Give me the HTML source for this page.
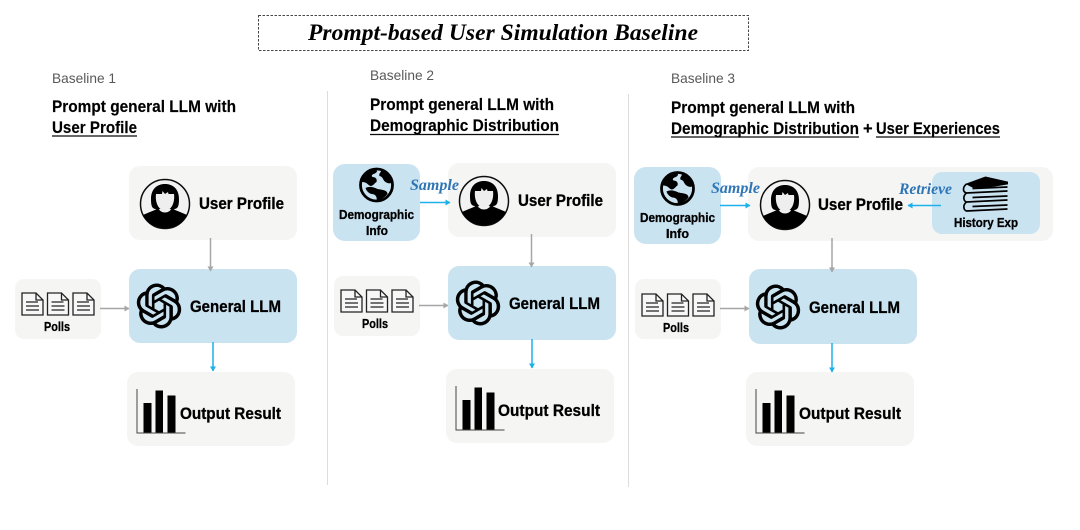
<!DOCTYPE html>
<html><head><meta charset="utf-8">
<style>
html,body{margin:0;padding:0;background:#fff;width:1080px;height:530px;overflow:hidden}
svg{display:block}
text{font-family:"Liberation Sans",sans-serif}
.b{font-weight:bold;fill:#000;stroke:#000;stroke-width:.3px}
.h{font-weight:bold;font-size:16.5px;fill:#000;stroke:#000;stroke-width:.15px}
.g{font-size:14px;fill:#595959}
.s{font-family:"Liberation Serif",serif;font-weight:bold;font-style:italic;font-size:15.5px;fill:#2e75b6}
</style></head><body>
<svg width="1080" height="530" viewBox="0 0 1080 530" xmlns="http://www.w3.org/2000/svg">
<defs>
<filter id="bl" x="-5%" y="-5%" width="110%" height="110%"><feGaussianBlur stdDeviation="0.35"/></filter>
<marker id="ag" markerUnits="userSpaceOnUse" markerWidth="7" markerHeight="7" refX="4.500" refY="3" orient="auto"><path d="M0 0L5 3L0 6z" fill="#a6a6a6"/></marker>
<marker id="ab" markerUnits="userSpaceOnUse" markerWidth="7" markerHeight="7" refX="4.500" refY="3" orient="auto"><path d="M0 0L5 3L0 6z" fill="#1fb0ec"/></marker>
<g id="person">
<circle r="24.500" fill="#f2f2f2" stroke="#111" stroke-width="1.500"/>
<path d="M-22 11C-16 8-11 7-7 4C-4 10 4 10 7 4C11 7 16 8 22 11C18 20 9 24 0 24C-9 24-18 20-22 11z" fill="#000"/>
<path d="M-14 -5C-14 -15-8 -20 0 -20C8 -20 14 -15 14 -5C14 2 13 5 9 5C7 6 4 5 3 4H-3C-4 5-7 6-9 5C-13 5-14 2-14 -5z" fill="#000"/>
<path d="M-9 -10L-3 -10L-2.500 -13L0 -10L3 -12L3.500 -10L9 -10C10 -2 7 6 0 7C-7 6-10 -2-9 -10z" fill="#eee"/>
</g>
<g id="llm">
<path transform="scale(1.85) translate(-12 -12)" fill="#000" stroke="#000" stroke-width="0.3" d="M22.2819 9.8211a5.9847 5.9847 0 0 0-.5157-4.9108 6.0462 6.0462 0 0 0-6.5098-2.9A6.0651 6.0651 0 0 0 4.9807 4.1818a5.9847 5.9847 0 0 0-3.9977 2.9 6.0462 6.0462 0 0 0 .7427 7.0966 5.98 5.98 0 0 0 .511 4.9107 6.051 6.051 0 0 0 6.5146 2.9001A5.9847 5.9847 0 0 0 13.2599 24a6.0557 6.0557 0 0 0 5.7718-4.2058 5.9894 5.9894 0 0 0 3.9977-2.9001 6.0557 6.0557 0 0 0-.7475-7.0729zm-9.022 12.6081a4.4755 4.4755 0 0 1-2.8764-1.0408l.1419-.0804 4.7783-2.7582a.7948.7948 0 0 0 .3927-.6813v-6.7369l2.02 1.1686a.071.071 0 0 1 .038.052v5.5826a4.504 4.504 0 0 1-4.4945 4.4944zm-9.6607-4.1254a4.4708 4.4708 0 0 1-.5346-3.0137l.142.0852 4.783 2.7582a.7712.7712 0 0 0 .7806 0l5.8428-3.3685v2.3324a.0804.0804 0 0 1-.0332.0615L9.74 19.9502a4.4992 4.4992 0 0 1-6.1408-1.6464zM2.3408 7.8956a4.485 4.485 0 0 1 2.3655-1.9728V11.6a.7664.7664 0 0 0 .3879.6765l5.8144 3.3543-2.0201 1.1685a.0757.0757 0 0 1-.071 0l-4.8303-2.7865A4.504 4.504 0 0 1 2.3408 7.872zm16.5963 3.8558L13.1038 8.364 15.1192 7.2a.0757.0757 0 0 1 .071 0l4.8303 2.7913a4.4944 4.4944 0 0 1-.6765 8.1042v-5.6772a.79.79 0 0 0-.407-.667zm2.0107-3.0231l-.142-.0852-4.7735-2.7818a.7759.7759 0 0 0-.7854 0L9.409 9.2297V6.8974a.0662.0662 0 0 1 .0284-.0615l4.8303-2.7866a4.4992 4.4992 0 0 1 6.6802 4.66zM8.3065 12.863l-2.02-1.1638a.0804.0804 0 0 1-.038-.0567V6.0742a4.4992 4.4992 0 0 1 7.3757-3.4537l-.142.0805L8.704 5.459a.7948.7948 0 0 0-.3927.6813zm1.0976-2.3654l2.602-1.4998 2.6069 1.4998v2.9994l-2.5974 1.4997-2.6067-1.4997Z"/>
</g>
<g id="doc" fill="none" stroke="#222" stroke-width="1.300">
<path d="M0 0H14L21 7V22H0z" fill="#f7f7f7"/><path d="M14 0V7H21"/><path d="M4 9H16M4 13H17M4 17H17" stroke-width="1.300"/>
</g>
<g id="docs"><use href="#doc" x="0"/><use href="#doc" x="25.500"/><use href="#doc" x="51"/></g>
<g id="bars">
<path d="M0.500 0V44H49" fill="none" stroke="#444" stroke-width="1"/>
<rect x="7" y="14" width="8" height="29.500" fill="#000"/><rect x="19" y="1.500" width="7.500" height="42" fill="#000"/><rect x="31" y="6.500" width="8" height="37" fill="#000"/>
</g>
<g id="globe">
<circle r="16" fill="#cae3f1" stroke="#000" stroke-width="2.800"/>
<path d="M-15 -3C-13 -11-7 -15 -1 -15.500C2 -14 0 -12-3 -11C-5 -10-5 -9-4 -8C-1 -8 1 -6 0 -3C-2 -2-3 1-6 1C-9 0-9 -3-15 -3z" fill="#000"/>
<path d="M5 -15C10 -13 14 -9 15.500 -4C15 -1 12 -1 9 -3C6 -5 7 -8 3 -9C2 -11 4 -12 5 -15z" fill="#000"/>
<path d="M-11 3C-7 1-3 2 1 4C6 5 11 5 11 9C8 13 4 15 0 15.500C1 11-2 9-5 9C-8 8-10 6-11 3z" fill="#000"/>
</g>
<g id="books">
<path d="M-20 -10L-1 -17L21 -12L21 -10L-4 -6L-14 -7z" fill="#000" stroke="#000" stroke-width="1"/>
<path d="M-20 -10C-24 -7-24 -2-20 -1L21 -3M-20 -1C-24 2-23 7-20 8L21 6M-20 8C-24 11-23 16-20 17L21 15M21 -7L-14 -5.500M21 2L-14 3.500M21 11L-14 12.500" fill="none" stroke="#000" stroke-width="1.700"/>
</g>
</defs>
<rect width="1080" height="530" fill="#fff"/>
<g filter="url(#bl)">
<rect x="258.500" y="15.500" width="490" height="35" fill="none" stroke="#444" stroke-width="1" stroke-dasharray="2.500 1.500"/>
<text x="308" y="40" textLength="390" style="font-family:'Liberation Serif',serif;font-weight:bold;font-style:italic;font-size:23.500px;fill:#000">Prompt-based User Simulation Baseline</text>
<path d="M327.500 91V485M628.500 94V487" stroke="#dcdcdc" stroke-width="1"/>

<!-- Baseline 1 -->
<text class="g" x="52" y="83" textLength="64" lengthAdjust="spacingAndGlyphs">Baseline 1</text>
<text class="h" x="52" y="112" textLength="184" lengthAdjust="spacingAndGlyphs">Prompt general LLM with</text>
<text class="h" x="52" y="133" textLength="85" lengthAdjust="spacingAndGlyphs">User Profile</text>
<path d="M52 136H137" stroke="#111" stroke-width="1.200"/>
<rect x="129" y="166" width="168" height="74" rx="11" fill="#f5f5f4"/>
<rect x="129" y="269" width="168" height="74" rx="11" fill="#cae3f1"/>
<rect x="15" y="279" width="86" height="60" rx="9" fill="#f5f5f4"/>
<rect x="127" y="372" width="168" height="74" rx="11" fill="#f5f5f4"/>
<use href="#person" x="165" y="204"/>
<text class="b" x="199" y="209" font-size="16.500" textLength="85" lengthAdjust="spacingAndGlyphs">User Profile</text>
<use href="#llm" transform="translate(159 306)"/>
<text class="b" x="190" y="312" font-size="16.500" textLength="91" lengthAdjust="spacingAndGlyphs">General LLM</text>
<use href="#docs" x="22" y="293"/>
<text class="b" x="44" y="331" font-size="12.500" textLength="26" lengthAdjust="spacingAndGlyphs">Polls</text>
<use href="#bars" x="136.500" y="389"/>
<text class="b" x="180" y="419" font-size="16.500" textLength="101" lengthAdjust="spacingAndGlyphs">Output Result</text>
<path d="M210.500 238V271" stroke="#a6a6a6" stroke-width="1.500" marker-end="url(#ag)"/>
<path d="M100 308.500H129" stroke="#a6a6a6" stroke-width="1.500" marker-end="url(#ag)"/>
<path d="M213 342V371" stroke="#1fb0ec" stroke-width="1.500" marker-end="url(#ab)"/>

<!-- Baseline 2 -->
<text class="g" x="370" y="80" textLength="64" lengthAdjust="spacingAndGlyphs">Baseline 2</text>
<text class="h" x="370" y="110" textLength="184" lengthAdjust="spacingAndGlyphs">Prompt general LLM with</text>
<text class="h" x="370" y="131" textLength="189" lengthAdjust="spacingAndGlyphs">Demographic Distribution</text>
<path d="M370 134.500H559" stroke="#111" stroke-width="1.200"/>
<rect x="333" y="164" width="87" height="77" rx="12" fill="#cae3f1"/>
<rect x="448" y="163" width="168" height="74" rx="11" fill="#f5f5f4"/>
<rect x="448" y="266" width="168" height="74" rx="11" fill="#cae3f1"/>
<rect x="334" y="276" width="86" height="60" rx="9" fill="#f5f5f4"/>
<rect x="446" y="369" width="168" height="74" rx="11" fill="#f5f5f4"/>
<use href="#globe" x="376.500" y="185"/>
<text class="b" x="339" y="219" font-size="12.500" textLength="75" lengthAdjust="spacingAndGlyphs">Demographic</text>
<text class="b" x="366" y="235" font-size="12.500" textLength="22" lengthAdjust="spacingAndGlyphs">Info</text>
<text class="s" x="410" y="190" textLength="49" lengthAdjust="spacingAndGlyphs">Sample</text>
<path d="M420 202.500H450" stroke="#1fb0ec" stroke-width="1.500" marker-end="url(#ab)"/>
<use href="#person" x="484" y="201"/>
<text class="b" x="518" y="206" font-size="16.500" textLength="85" lengthAdjust="spacingAndGlyphs">User Profile</text>
<use href="#llm" transform="translate(478 303)"/>
<text class="b" x="509" y="309" font-size="16.500" textLength="91" lengthAdjust="spacingAndGlyphs">General LLM</text>
<use href="#docs" x="341" y="290"/>
<text class="b" x="362" y="328" font-size="12.500" textLength="26" lengthAdjust="spacingAndGlyphs">Polls</text>
<use href="#bars" x="455.500" y="386"/>
<text class="b" x="498" y="416" font-size="16.500" textLength="102" lengthAdjust="spacingAndGlyphs">Output Result</text>
<path d="M531.500 234V267" stroke="#a6a6a6" stroke-width="1.500" marker-end="url(#ag)"/>
<path d="M419 305.500H448" stroke="#a6a6a6" stroke-width="1.500" marker-end="url(#ag)"/>
<path d="M532 339V368" stroke="#1fb0ec" stroke-width="1.500" marker-end="url(#ab)"/>

<!-- Baseline 3 -->
<text class="g" x="671" y="83" textLength="64" lengthAdjust="spacingAndGlyphs">Baseline 3</text>
<text class="h" x="671" y="113" textLength="184" lengthAdjust="spacingAndGlyphs">Prompt general LLM with</text>
<text class="h" x="671" y="134" textLength="188" lengthAdjust="spacingAndGlyphs">Demographic Distribution</text>
<text class="h" x="863" y="134">+</text>
<text class="h" x="876" y="134" textLength="124" lengthAdjust="spacingAndGlyphs">User Experiences</text>
<path d="M671 137H859M876 137H1000" stroke="#111" stroke-width="1.200"/>
<rect x="634" y="167" width="87" height="77" rx="12" fill="#cae3f1"/>
<rect x="748" y="167" width="305" height="74" rx="11" fill="#f5f5f4"/>
<rect x="932" y="172" width="108" height="62" rx="10" fill="#cae3f1"/>
<rect x="749" y="269" width="168" height="75" rx="11" fill="#cae3f1"/>
<rect x="635" y="279" width="86" height="60" rx="9" fill="#f5f5f4"/>
<rect x="746" y="372" width="168" height="74" rx="11" fill="#f5f5f4"/>
<use href="#globe" x="677.500" y="188.500"/>
<text class="b" x="640" y="222" font-size="12.500" textLength="75" lengthAdjust="spacingAndGlyphs">Demographic</text>
<text class="b" x="666" y="238" font-size="12.500" textLength="23" lengthAdjust="spacingAndGlyphs">Info</text>
<text class="s" x="711" y="193" textLength="49" lengthAdjust="spacingAndGlyphs">Sample</text>
<path d="M720 205.500H750" stroke="#1fb0ec" stroke-width="1.500" marker-end="url(#ab)"/>
<use href="#person" x="785" y="205"/>
<text class="b" x="818" y="210" font-size="16.500" textLength="85" lengthAdjust="spacingAndGlyphs">User Profile</text>
<text class="s" x="899" y="194" textLength="53" lengthAdjust="spacingAndGlyphs">Retrieve</text>
<path d="M941 205.500H908" stroke="#1fb0ec" stroke-width="1.500" marker-end="url(#ab)"/>
<use href="#books" x="986.500" y="194"/>
<text class="b" x="954" y="227" font-size="12.500" textLength="64" lengthAdjust="spacingAndGlyphs">History Exp</text>
<use href="#llm" transform="translate(778 307)"/>
<text class="b" x="809" y="313" font-size="16.500" textLength="91" lengthAdjust="spacingAndGlyphs">General LLM</text>
<use href="#docs" x="642" y="294"/>
<text class="b" x="663" y="332" font-size="12.500" textLength="26" lengthAdjust="spacingAndGlyphs">Polls</text>
<use href="#bars" x="755.500" y="389"/>
<text class="b" x="799" y="419" font-size="16.500" textLength="102" lengthAdjust="spacingAndGlyphs">Output Result</text>
<path d="M832 238V272" stroke="#a6a6a6" stroke-width="1.500" marker-end="url(#ag)"/>
<path d="M720 308.500H749" stroke="#a6a6a6" stroke-width="1.500" marker-end="url(#ag)"/>
<path d="M832 343V372" stroke="#1fb0ec" stroke-width="1.500" marker-end="url(#ab)"/>
</g>
</svg>
</body></html>
